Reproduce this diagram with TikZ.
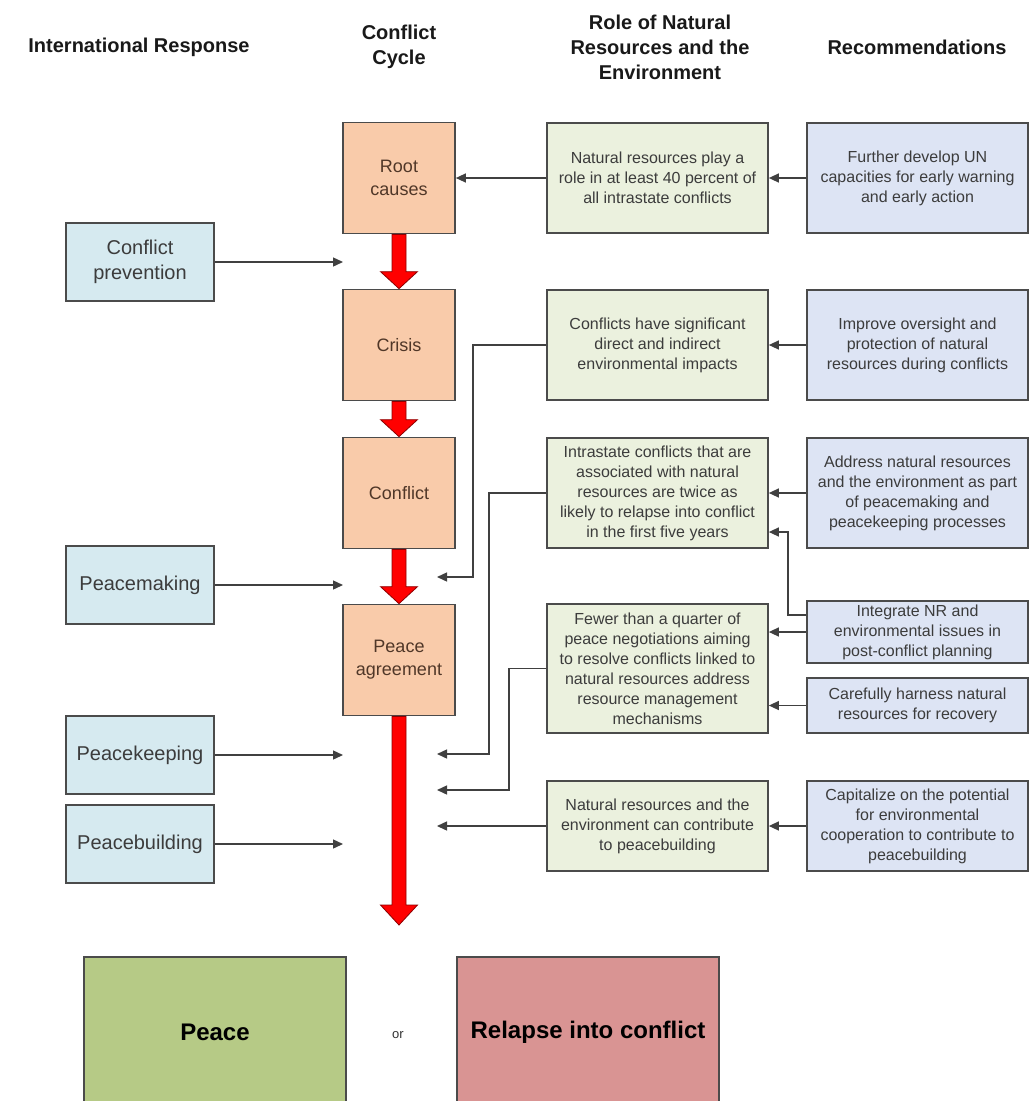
\documentclass[tikz,border=0pt]{standalone}
\usepackage{fontspec}
\setmainfont{Liberation Sans}
\usetikzlibrary{calc,arrows.meta}

\definecolor{peach}{RGB}{249,203,170}
\definecolor{iceblue}{RGB}{214,234,240}
\definecolor{palegreen}{RGB}{235,241,222}
\definecolor{lavender}{RGB}{221,228,244}
\definecolor{peacegreen}{RGB}{182,202,134}
\definecolor{relapsered}{RGB}{217,148,147}
\definecolor{boxline}{RGB}{75,75,75}
\definecolor{bodytext}{RGB}{60,60,60}
\definecolor{cycletext}{RGB}{80,55,40}

% fat red arrow of the conflict cycle: from, to, head length
\newcommand{\cyclearrow}[3]{%
  \filldraw[bigarrow] ($(#1)+(-7,0)$) -- ($(#2)+(-7,-#3)$) -- ($(#2)+(-18.5,-#3)$)
    -- (#2) -- ($(#2)+(18.5,-#3)$) -- ($(#2)+(7,-#3)$) -- ($(#1)+(7,0)$) -- cycle;}

\begin{document}
\begin{tikzpicture}[x=1pt,y=-1pt]
        \tikzset{header/.style={align=center, text=black!90, font=\fontsize{20}{25}\selectfont\bfseries},
                 cyclebox/.style={draw=boxline, line width=1.7pt, fill=peach, text=cycletext, align=center,
                                  minimum width=112pt, minimum height=111pt, font=\fontsize{18}{23}\selectfont},
                 responsebox/.style={draw=boxline, line width=1.7pt, fill=iceblue, text=bodytext, align=center,
                                     minimum width=148pt, minimum height=78pt, font=\fontsize{20}{25}\selectfont},
                 rolebox/.style={draw=boxline, line width=1.7pt, fill=palegreen, text=bodytext, align=center,
                                 minimum width=221pt, font=\fontsize{16}{20}\selectfont},
                 recbox/.style={draw=boxline, line width=1.7pt, fill=lavender, text=bodytext, align=center,
                                minimum width=221pt, font=\fontsize{16}{20}\selectfont},
                 outcome/.style={draw=boxline, line width=1.7pt, align=center, text=black,
                                 minimum width=262pt, minimum height=150pt, font=\fontsize{24}{29}\selectfont\bfseries},
                 link/.style={draw=black!75, line width=1.4pt, -{Triangle[length=10pt,width=9pt]}},
                 bigarrow/.style={fill=red, draw=red!55!black, line width=0.8pt}}
        \useasboundingbox (0,0) rectangle (1036,1101);
        \fill[white] (0,0) rectangle (1036,1101);

        % column headers
        \node [header] (h1) at (139,47)  {International Response};
        \node [header] (h2) at (399,47)  {Conflict\\Cycle};
        \node [header] (h3) at (660,47)  {Role of Natural\\Resources and the\\Environment};
        \node [header] (h4) at (917,47)  {Recommendations};

        % conflict cycle
        \node [cyclebox] (root)   at (399,178) {Root\\causes};
        \node [cyclebox] (crisis) at (399,345) {Crisis};
        \node [cyclebox] (confl)  at (399,493) {Conflict};
        \node [cyclebox] (agree)  at (399,660) {Peace\\agreement};
        \coordinate (cycleend) at (399,925);

        % international response
        \node [responsebox] (prev)  at (140,262) {Conflict\\prevention};
        \node [responsebox] (make)  at (140,585) {Peacemaking};
        \node [responsebox] (keep)  at (140,755) {Peacekeeping};
        \node [responsebox] (build) at (140,844) {Peacebuilding};
        \coordinate (prevend)  at (343,262);
        \coordinate (makeend)  at (343,585);
        \coordinate (keepend)  at (343,755);
        \coordinate (buildend) at (343,844);

        % role of natural resources and the environment
        \node [rolebox, minimum height=110pt] (g1) at (657.5,178)
              {Natural resources play a\\role in at least 40 percent of\\all intrastate conflicts};
        \node [rolebox, minimum height=110pt] (g2) at (657.5,345)
              {Conflicts have significant\\direct and indirect\\environmental impacts};
        \node [rolebox, minimum height=110pt] (g3) at (657.5,493)
              {Intrastate conflicts that are\\associated with natural\\resources are twice as\\likely to relapse into conflict\\in the first five years};
        \node [rolebox, minimum height=129pt] (g4) at (657.5,668.5)
              {Fewer than a quarter of\\peace negotiations aiming\\to resolve conflicts linked to\\natural resources address\\resource management\\mechanisms};
        \node [rolebox, minimum height=90pt] (g5) at (657.5,826)
              {Natural resources and the\\environment can contribute\\to peacebuilding};
        \coordinate (in1) at (437,577);
        \coordinate (in2) at (437,754);
        \coordinate (in3) at (437,790);
        \coordinate (in4) at (437,826);

        % recommendations
        \node [recbox, minimum height=110pt] (r1) at (917.5,178)
              {Further develop UN\\capacities for early warning\\and early action};
        \node [recbox, minimum height=110pt] (r2) at (917.5,345)
              {Improve oversight and\\protection of natural\\resources during conflicts};
        \node [recbox, minimum height=110pt] (r3) at (917.5,493)
              {Address natural resources\\and the environment as part\\of peacemaking and\\peacekeeping processes};
        \node [recbox, minimum height=56pt] (r4) at (917.5,632)
              {Integrate NR and\\environmental issues in\\post-conflict planning};
        \node [recbox, minimum height=55pt] (r5) at (917.5,705.5)
              {Carefully harness natural\\resources for recovery};
        \node [recbox, minimum height=90pt] (r6) at (917.5,826)
              {Capitalize on the potential\\for environmental\\cooperation to contribute to\\peacebuilding};

        % outcomes
        \node [outcome, fill=peacegreen] (peace)   at (215,1032) {Peace};
        \node [outcome, fill=relapsered] (relapse) at (588,1032) {Relapse into conflict};
        \node [font=\fontsize{13}{15}\selectfont, text=black!80] (or) at (398,1035) {or};

        % red cycle arrows
        \cyclearrow{root.south}{crisis.north}{17}
        \cyclearrow{crisis.south}{confl.north}{17}
        \cyclearrow{confl.south}{agree.north}{17}
        \cyclearrow{agree.south}{cycleend}{20}

        % response arrows
        \draw [link] (prev.east)  -- (prevend);
        \draw [link] (make.east)  -- (makeend);
        \draw [link] (keep.east)  -- (keepend);
        \draw [link] (build.east) -- (buildend);

        % role arrows into the cycle
        \draw [link] (g1.west) -- (root.east);
        \draw [link] (g2.west) -- ++(-73,0) |- (in1);
        \draw [link] (g3.west) -- ++(-57,0) |- (in2);
        \draw [link] (g4.west) -- ++(-37,0) |- (in3);
        \draw [link] (g5.west) -- (in4);

        % recommendation arrows
        \draw [link] (r1.west) -- (g1.east);
        \draw [link] (r2.west) -- (g2.east);
        \draw [link] (r3.west) -- (g3.east);
        \draw [link] ([yshift=17pt]r4.west) -- ++(-18,0) |- ([yshift=-39pt]g3.east);
        \draw [link] (r4.west) -- (r4.west -| g4.east);
        \draw [link] (r5.west) -- (r5.west -| g4.east);
        \draw [link] (r6.west) -- (g5.east);
    \end{tikzpicture}
\end{document}
